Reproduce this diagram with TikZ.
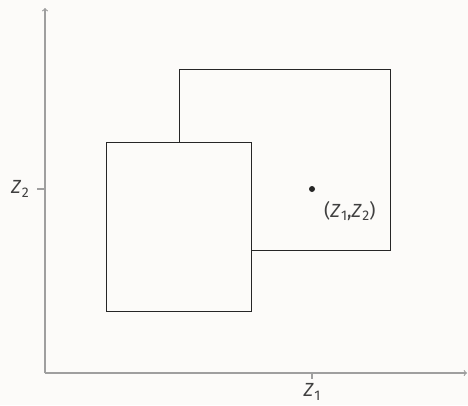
\documentclass[tikz,border=0pt]{standalone}
\usepackage{fontspec}
\setmainfont{Fira Sans}
\definecolor{bg}{RGB}{252,251,249}
\newcommand{\Zsub}[1]{\textit{Z}\kern0.03em\raisebox{-0.2em}{\fontsize{14}{14}\selectfont #1}}
\begin{document}
\begin{tikzpicture}[x=1pt,y=-1pt,
  axis/.style={draw=gray!75,line width=1.2pt,-to},
  tickmark/.style={draw=gray!75,line width=1.2pt},
  box/.style={draw=black!85,line width=1pt,fill=bg},
  lbl/.style={font=\fontsize{19}{22}\selectfont,text=black!75,inner sep=0pt}]
\fill[bg] (0,0) rectangle (468,405);
\useasboundingbox (0,0) rectangle (468,405);
\coordinate (O) at (45,373);
\coordinate (xend) at (467,373);
\coordinate (yend) at (45,8);
\draw[axis] (O) -- (xend);
\draw[axis] (O) -- (yend);
\coordinate (xt1) at (312,373);
\coordinate (xt2) at (312,379);
\coordinate (yt1) at (45,189);
\coordinate (yt2) at (37,189);
\draw[tickmark] (xt1) -- (xt2);
\draw[tickmark] (yt1) -- (yt2);
\node[lbl,anchor=north] (z1) at (312,383) {\Zsub{1}};
\node[lbl,anchor=east] (z2) at (29,189) {\Zsub{2}};
\draw[box] (179,69) rectangle (390,250);
\draw[box] (106,142) rectangle (251,311);
\fill[black!85] (312,189) circle (3);
\node[lbl,anchor=west] (pt) at (324,211) {(\Zsub{1},\Zsub{2})};
\end{tikzpicture}
\end{document}
